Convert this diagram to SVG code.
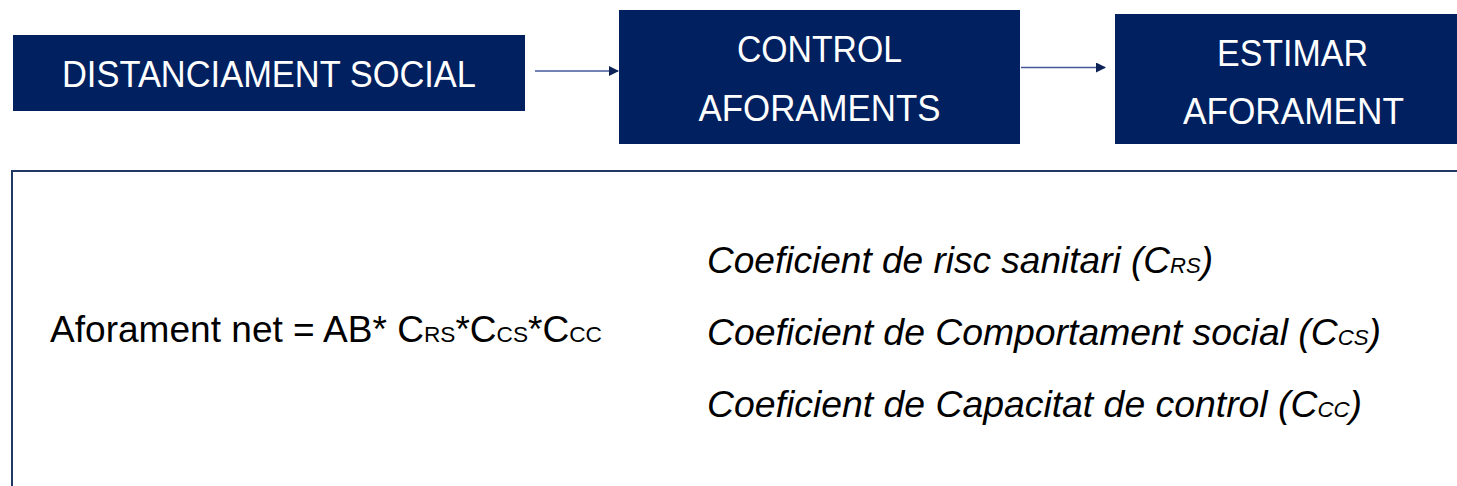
<svg xmlns="http://www.w3.org/2000/svg" width="1457" height="486" viewBox="0 0 1457 486">
<style>
.box{fill:#002060}
.bt{font-family:"Liberation Sans",Arial,sans-serif;font-size:36px;fill:#ffffff;text-anchor:middle}
.conn{stroke:#44579a;stroke-width:1.5;fill:none}
.frame{fill:none;stroke:#1f3864;stroke-width:2}
.f{font-family:"Liberation Sans",Arial,sans-serif;font-size:36px;fill:#000000}
.it{font-family:"Liberation Sans",Arial,sans-serif;font-size:37px;font-style:italic;fill:#000000}
.sub{font-size:22px}
</style>
<defs>
<marker id="ah" markerWidth="10" markerHeight="10" refX="9" refY="5" orient="auto" markerUnits="userSpaceOnUse">
<path d="M0,0 L10,5 L0,10 z" fill="#0d2257"/>
</marker>
</defs>
<rect width="1457" height="486" fill="#ffffff"/>
<g id="node-distanciament">
<rect class="box" x="13" y="35" width="512" height="76"/>
<text class="bt" x="269" y="87" textLength="414" lengthAdjust="spacingAndGlyphs">DISTANCIAMENT SOCIAL</text>
</g>
<g id="node-control">
<rect class="box" x="619" y="10" width="401" height="134"/>
<text class="bt" x="819.5" y="62" textLength="165" lengthAdjust="spacingAndGlyphs">CONTROL</text>
<text class="bt" x="819.5" y="121" textLength="242" lengthAdjust="spacingAndGlyphs">AFORAMENTS</text>
</g>
<g id="node-estimar">
<rect class="box" x="1115" y="14" width="356" height="130"/>
<text class="bt" x="1292.5" y="66" textLength="151" lengthAdjust="spacingAndGlyphs">ESTIMAR</text>
<text class="bt" x="1293.5" y="124" textLength="221" lengthAdjust="spacingAndGlyphs">AFORAMENT</text>
</g>
<g id="connectors">
<line class="conn" x1="535" y1="71" x2="618" y2="71" marker-end="url(#ah)"/>
<line class="conn" x1="1021" y1="67.5" x2="1105" y2="67.5" marker-end="url(#ah)"/>
</g>
<g id="formula-panel">
<path class="frame" d="M1460,171 L12,171 L12,490"/>
<text class="f" x="50" y="342" textLength="552" lengthAdjust="spacingAndGlyphs">Aforament net = AB* C<tspan class="sub">RS</tspan>*C<tspan class="sub">CS</tspan>*C<tspan class="sub">CC</tspan></text>
<text class="it" x="707" y="273" textLength="506" lengthAdjust="spacingAndGlyphs">Coeficient de risc sanitari (C<tspan class="sub">RS</tspan>)</text>
<text class="it" x="707" y="345" textLength="674" lengthAdjust="spacingAndGlyphs">Coeficient de Comportament social (C<tspan class="sub">CS</tspan>)</text>
<text class="it" x="707" y="417" textLength="655" lengthAdjust="spacingAndGlyphs">Coeficient de Capacitat de control (C<tspan class="sub">CC</tspan>)</text>
</g>
</svg>
